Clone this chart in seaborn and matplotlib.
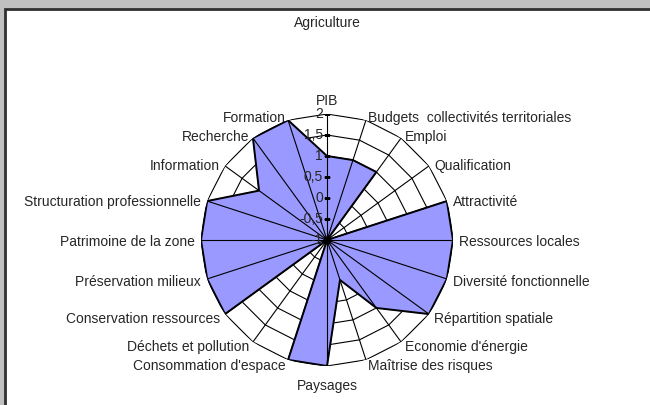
import numpy as np
import matplotlib
matplotlib.use('Agg')
import matplotlib.pyplot as plt
from matplotlib.patches import Rectangle
import seaborn as sns

# données
categories = ['PIB', 'Budgets  collectivités territoriales', 'Emploi', 'Qualification',
              'Attractivité', 'Ressources locales', 'Diversité fonctionnelle',
              'Répartition spatiale', "Economie d'énergie", 'Maîtrise des risques',
              'Paysages', "Consommation d'espace", 'Déchets et pollution',
              'Conservation ressources', 'Préservation milieux', 'Patrimoine de la zone',
              'Structuration professionnelle', 'Information', 'Recherche', 'Formation']
values = [1, 1, 1, -1, 2, 2, 2, 2, 1, 0, 2, 2, -1, 2, 2, 2, 2, 1, 2, 2]
r_ticks = [-1, -0.5, 0, 0.5, 1, 1.5, 2]
r_labels = ['-1', '-0,5', '0', '0,5', '1', '1,5', '2']
title = 'Agriculture'

sns.set_style('white')
plt.rcParams['font.family'] = ['Liberation Sans', 'DejaVu Sans']
fs = 10

fig = plt.figure(figsize=(6.5, 4.05), dpi=100)
fig.patch.set_facecolor('#c0c0c0')
# zone blanche du graphique avec bordure (ouverte à droite et en bas)
fig.add_artist(Rectangle((5 / 650, -0.05), 1.2, 1 - 9 / 405 + 0.05, transform=fig.transFigure,
                         facecolor='white', edgecolor='#303030', linewidth=2, zorder=0))

ax = fig.add_axes([(327 - 126) / 650, (405 - 366) / 405, 252 / 650, 252 / 405], polar=True)
ax.set_facecolor('none')
ax.set_theta_zero_location('N')
ax.set_theta_direction(-1)
ax.set_ylim(-1, 2)
ax.grid(False)
ax.set_xticks([])
ax.set_yticks([])
ax.spines['polar'].set_visible(False)

n = len(categories)
theta = np.arange(n) * 2 * np.pi / n
theta_closed = np.append(theta, theta[0])

# anneaux polygonaux
for r in r_ticks[1:]:
    ax.plot(theta_closed, [r] * (n + 1), color='black', linewidth=0.8, zorder=1)

# zone remplie
vals_closed = values + values[:1]
ax.fill(theta_closed, vals_closed, color='#9999ff', zorder=2)
ax.plot(theta_closed, vals_closed, color='black', linewidth=1.4, zorder=4)

# rayons
for t in theta:
    ax.plot([t, t], [-1, 2], color='black', linewidth=0.8, zorder=3)
ax.plot([0], [r_ticks[0]], marker='o', markersize=5, color='black', zorder=5)

# graduations de l'axe de valeur
ax.plot([0] * len(r_ticks), r_ticks, linestyle='none', marker='_', markersize=5,
        color='black', zorder=5)
for r, lab in zip(r_ticks, r_labels):
    ax.annotate(lab, (0, r), xytext=(-3, 0), textcoords='offset points',
                ha='right', va='center', fontsize=fs, zorder=6)

# étiquettes des catégories
for t, lab in zip(theta, categories):
    s = np.sin(t)
    if abs(s) < 1e-6:
        ha = 'center'
        va = 'bottom' if np.cos(t) > 0 else 'top'
        rr = 2.15 if np.cos(t) > 0 else 2.3
        dy = 0
    else:
        ha = 'left' if s > 0 else 'right'
        va = 'center'
        rr = 2.15
        dy = -1.5 - 1.5 * np.cos(t)
    ax.annotate(lab, (t, rr), xytext=(0, dy), textcoords='offset points',
                ha=ha, va=va, fontsize=fs, annotation_clip=False)

fig.text(327 / 650, 1 - 23 / 405, title, ha='center', va='center', fontsize=fs)

fig.savefig('out.png', dpi=100, facecolor=fig.get_facecolor())
